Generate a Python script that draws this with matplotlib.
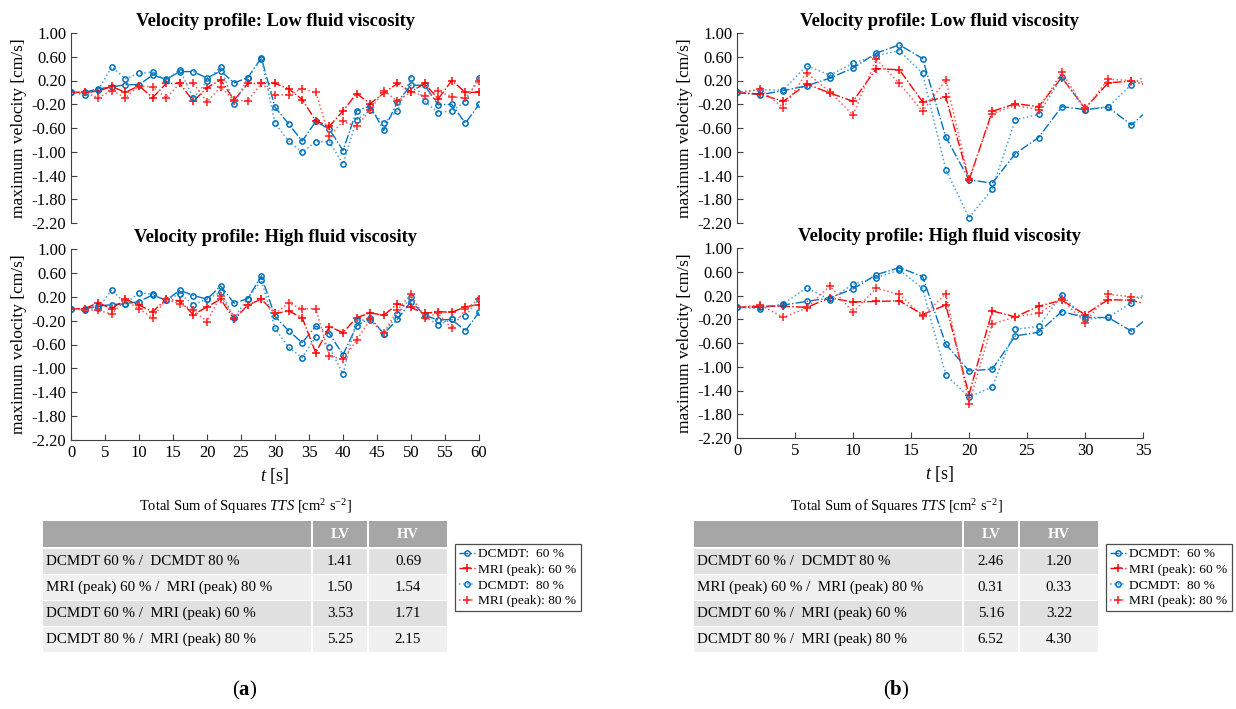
import numpy as np
import matplotlib.pyplot as plt
from matplotlib.patches import Rectangle

plt.rcParams['font.family'] = ['Liberation Serif', 'DejaVu Serif']
plt.rcParams['mathtext.fontset'] = 'custom'
plt.rcParams['mathtext.rm'] = 'Liberation Serif'
plt.rcParams['mathtext.it'] = 'Liberation Serif:italic'
plt.rcParams['mathtext.bf'] = 'Liberation Serif:bold'
plt.rcParams['axes.unicode_minus'] = False

# time axes (s)
t_a = np.arange(0, 61, 2)
t_b = np.arange(0, 37, 2)

# (a) low fluid viscosity
a_low_dcmdt60 = [0, 0.0, 0.06, 0.09, 0.13, 0.13, 0.29, 0.22, 0.35, 0.35, 0.24, 0.36, 0.16, 0.25, 0.58, -0.25,
                 -0.53, -0.82, -0.49, -0.62, -0.98, -0.31, -0.23, -0.64, -0.16, 0.12, 0.12, -0.21, -0.20, -0.52, -0.20]
a_low_mri60 = [0, 0.0, 0.02, 0.10, 0.0, 0.11, -0.09, 0.15, 0.15, -0.15, 0.08, 0.21, -0.13, 0.15, 0.15, 0.15,
               0.06, -0.12, -0.48, -0.57, -0.31, -0.02, -0.19, -0.01, 0.15, 0.01, 0.15, -0.11, 0.20, 0.0, 0.0]
a_low_dcmdt80 = [0, -0.04, 0.04, 0.43, 0.23, 0.32, 0.34, 0.21, 0.38, -0.10, 0.19, 0.43, -0.20, 0.25, 0.57, -0.52,
                 -0.82, -1.01, -0.83, -0.83, -1.21, -0.46, -0.30, -0.52, -0.31, 0.25, -0.15, -0.34, -0.31, -0.16, 0.25]
a_low_mri80 = [0, 0.0, -0.09, 0.03, -0.09, 0.11, 0.09, -0.09, 0.15, 0.15, -0.16, 0.09, -0.14, -0.14, 0.15, -0.04,
               -0.04, 0.06, 0.0, -0.74, -0.49, -0.57, -0.30, 0.03, -0.15, 0.01, -0.06, 0.02, -0.07, -0.10, 0.20]

# (a) high fluid viscosity
a_high_dcmdt60 = [0, 0.0, 0.04, 0.07, 0.08, 0.12, 0.23, 0.14, 0.31, 0.22, 0.16, 0.38, 0.09, 0.17, 0.55, -0.13,
                  -0.37, -0.57, -0.29, -0.42, -0.77, -0.29, -0.15, -0.42, -0.18, 0.12, -0.11, -0.19, -0.18, -0.37, -0.06]
a_high_mri60 = [0, 0.0, 0.10, 0.0, 0.16, 0.06, -0.05, 0.16, 0.13, -0.10, 0.03, 0.16, -0.18, 0.06, 0.16, -0.08,
                -0.04, -0.15, -0.74, -0.30, -0.40, -0.15, -0.07, -0.11, 0.08, 0.02, -0.08, -0.05, -0.06, 0.03, 0.07]
a_high_dcmdt80 = [0, -0.02, 0.01, 0.32, 0.08, 0.27, 0.24, 0.14, 0.25, 0.07, 0.16, 0.28, -0.15, 0.17, 0.48, -0.33,
                  -0.65, -0.82, -0.47, -0.65, -1.09, -0.19, -0.19, -0.42, -0.09, 0.19, -0.13, -0.27, -0.18, -0.12, 0.16]
a_high_mri80 = [0, -0.02, -0.03, -0.09, 0.14, 0.0, -0.15, 0.16, 0.08, -0.02, -0.22, 0.22, -0.15, 0.06, 0.16, -0.08,
                0.09, 0.0, 0.0, -0.79, -0.85, -0.53, -0.18, -0.41, -0.02, 0.24, -0.15, -0.08, -0.33, -0.01, 0.16]

# (b) low fluid viscosity
b_low_dcmdt60 = [0, -0.04, 0.03, 0.11, 0.24, 0.41, 0.66, 0.80, 0.57, -0.75, -1.47, -1.53, -1.03, -0.76, -0.24,
                 -0.29, -0.25, -0.55, -0.20]
b_low_mri60 = [0, -0.03, -0.15, 0.14, -0.01, -0.15, 0.40, 0.38, -0.16, -0.08, -1.48, -0.32, -0.19, -0.24, 0.25,
               -0.27, 0.16, 0.19, 0.09]
b_low_dcmdt80 = [0, 0.04, 0.04, 0.45, 0.29, 0.49, 0.62, 0.70, 0.32, -1.30, -2.11, -1.63, -0.46, -0.37, 0.26,
                 -0.29, -0.24, 0.13, 0.37]
b_low_mri80 = [0, 0.05, -0.26, 0.33, 0.01, -0.38, 0.56, 0.15, -0.32, 0.21, -1.46, -0.36, -0.22, -0.29, 0.34,
               -0.28, 0.22, 0.20, 0.15]

# (b) high fluid viscosity
b_high_dcmdt60 = [0, 0.0, 0.04, 0.10, 0.16, 0.31, 0.55, 0.67, 0.52, -0.62, -1.07, -1.04, -0.48, -0.42, -0.07,
                  -0.17, -0.17, -0.40, -0.08]
b_high_mri60 = [0, 0.02, 0.02, 0.0, 0.16, 0.09, 0.10, 0.11, -0.12, 0.04, -1.47, -0.06, -0.16, 0.02, 0.12,
                -0.12, 0.13, 0.12, 0.02]
b_high_dcmdt80 = [0, -0.02, 0.06, 0.33, 0.13, 0.39, 0.50, 0.63, 0.32, -1.14, -1.51, -1.34, -0.37, -0.32, 0.21,
                  -0.20, -0.17, 0.08, 0.33]
b_high_mri80 = [0, 0.04, -0.17, -0.01, 0.36, -0.08, 0.32, 0.22, -0.15, 0.23, -1.62, -0.28, -0.16, -0.10, 0.14,
                -0.26, 0.22, 0.18, 0.14]

# total sum of squares tables
row_labels = ["DCMDT 60 % /  DCMDT 80 %", "MRI (peak) 60 % /  MRI (peak) 80 %",
              "DCMDT 60 % /  MRI (peak) 60 %", "DCMDT 80 % /  MRI (peak) 80 %"]
tts_a_lv = [1.41, 1.50, 3.53, 5.25]
tts_a_hv = [0.69, 1.54, 1.71, 2.15]
tts_b_lv = [2.46, 0.31, 5.16, 6.52]
tts_b_hv = [1.20, 0.33, 3.22, 4.30]

series_labels = ["DCMDT:  60 %", "MRI (peak): 60 %", "DCMDT:  80 %", "MRI (peak): 80 %"]

W, H = 1236, 709
fig = plt.figure(figsize=(W / 100, H / 100), dpi=100)


def px_axes(x0, y0, x1, y1):
    return fig.add_axes([x0 / W, 1 - y1 / H, (x1 - x0) / W, (y1 - y0) / H])


def velocity_plot(ax, t, d60, m60, d80, m80, title, xmax, show_x):
    lines = []
    lines += ax.plot(t, d60, '-.', color='#0072BD', lw=1.0, marker='o', ms=3.8, mfc='none', mew=1.1)
    lines += ax.plot(t, m60, '-.', color='#FF0000', lw=1.0, marker='+', ms=5.5, mew=1.1)
    lines += ax.plot(t, d80, ':', color='#4a9fdc', lw=1.1, marker='o', ms=3.8, mfc='none', mew=1.1,
                     mec='#0072BD')
    lines += ax.plot(t, m80, ':', color='#ff5a5a', lw=1.1, marker='+', ms=5.5, mew=1.1, mec='#ff2020')
    ax.set_xlim(0, xmax)
    ax.set_ylim(-2.2, 1.0)
    ax.set_yticks(np.arange(1.0, -2.21, -0.4))
    ax.yaxis.set_major_formatter(plt.FormatStrFormatter('%.2f'))
    ax.set_xticks(np.arange(0, xmax + 1, 5))
    ax.tick_params(direction='in', length=4, labelsize=12, color='#404040')
    for s in ['top', 'right']:
        ax.spines[s].set_visible(False)
    for s in ['left', 'bottom']:
        ax.spines[s].set_color('#404040')
    if not show_x:
        ax.spines['bottom'].set_visible(False)
        ax.tick_params(axis='x', bottom=False, labelbottom=False)
    else:
        ax.set_xlabel('$t$ [s]', fontsize=13, labelpad=4)
    ax.set_ylabel('maximum velocity [cm/s]', fontsize=12.5, labelpad=3)
    ax.set_title(title, fontsize=13.3, fontweight='bold', pad=5)
    return lines


ax1 = px_axes(71, 33, 479, 223)
h = velocity_plot(ax1, t_a, a_low_dcmdt60, a_low_mri60, a_low_dcmdt80, a_low_mri80,
                  'Velocity profile: Low fluid viscosity', 60, False)
ax2 = px_axes(71, 249, 479, 440)
velocity_plot(ax2, t_a, a_high_dcmdt60, a_high_mri60, a_high_dcmdt80, a_high_mri80,
              'Velocity profile: High fluid viscosity', 60, True)
ax3 = px_axes(737, 33, 1143, 223)
velocity_plot(ax3, t_b, b_low_dcmdt60, b_low_mri60, b_low_dcmdt80, b_low_mri80,
              'Velocity profile: Low fluid viscosity', 35, False)
ax4 = px_axes(737, 248, 1143, 438)
velocity_plot(ax4, t_b, b_high_dcmdt60, b_high_mri60, b_high_dcmdt80, b_high_mri80,
              'Velocity profile: High fluid viscosity', 35, True)

# overlay in pixel units for tables and panel letters
ov = fig.add_axes([0, 0, 1, 1], zorder=-1)
ov.set_xlim(0, W)
ov.set_ylim(H, 0)
ov.axis('off')

row_tops = [549, 575, 601, 627]
row_h = 25
row_cols = ['#e0e0e0', '#f0f0f0', '#e0e0e0', '#f0f0f0']


def tts_table(x0, lv, hv, letter):
    edges = [x0, x0 + 270, x0 + 326, x0 + 406]
    ov.text((edges[0] + edges[3]) / 2, 507, r'Total Sum of Squares $\mathit{TTS}$ [cm$^{2}$ s$^{-2}$]',
            ha='center', va='center', fontsize=10.5)
    for j in range(3):
        ov.add_patch(Rectangle((edges[j] + 1, 521), edges[j + 1] - edges[j] - 2, 26,
                               facecolor='#a6a6a6', edgecolor='none'))
    for j, lab in enumerate(['LV', 'HV']):
        ov.text((edges[j + 1] + edges[j + 2]) / 2, 534, lab, ha='center', va='center',
                fontsize=10.5, fontweight='bold', color='white')
    for i, lab in enumerate(row_labels):
        yt = row_tops[i]
        for j in range(3):
            ov.add_patch(Rectangle((edges[j] + 1, yt), edges[j + 1] - edges[j] - 2, row_h,
                                   facecolor=row_cols[i], edgecolor='none'))
        yc = yt + row_h / 2
        ov.text(edges[0] + 4, yc, lab, ha='left', va='center', fontsize=10.8)
        ov.text((edges[1] + edges[2]) / 2, yc, f'{lv[i]:.2f}', ha='center', va='center', fontsize=10.8)
        ov.text((edges[2] + edges[3]) / 2, yc, f'{hv[i]:.2f}', ha='center', va='center', fontsize=10.8)
    ov.text(x0 + 203, 690, '($\\mathbf{' + letter + '}$)', ha='center', va='center', fontsize=15)


tts_table(42, tts_a_lv, tts_a_hv, 'a')
tts_table(693, tts_b_lv, tts_b_hv, 'b')

for lx in [455, 1106]:
    leg = fig.legend(h, series_labels, loc='upper left', bbox_to_anchor=(lx / W, 1 - 544 / H),
                     fontsize=9.6, frameon=True, fancybox=False, edgecolor='#202020',
                     handlelength=1.2, handletextpad=0.25, borderpad=0.3, labelspacing=0.25,
                     borderaxespad=0)
    leg.get_frame().set_linewidth(0.9)

fig.savefig('out.png', dpi=100)
